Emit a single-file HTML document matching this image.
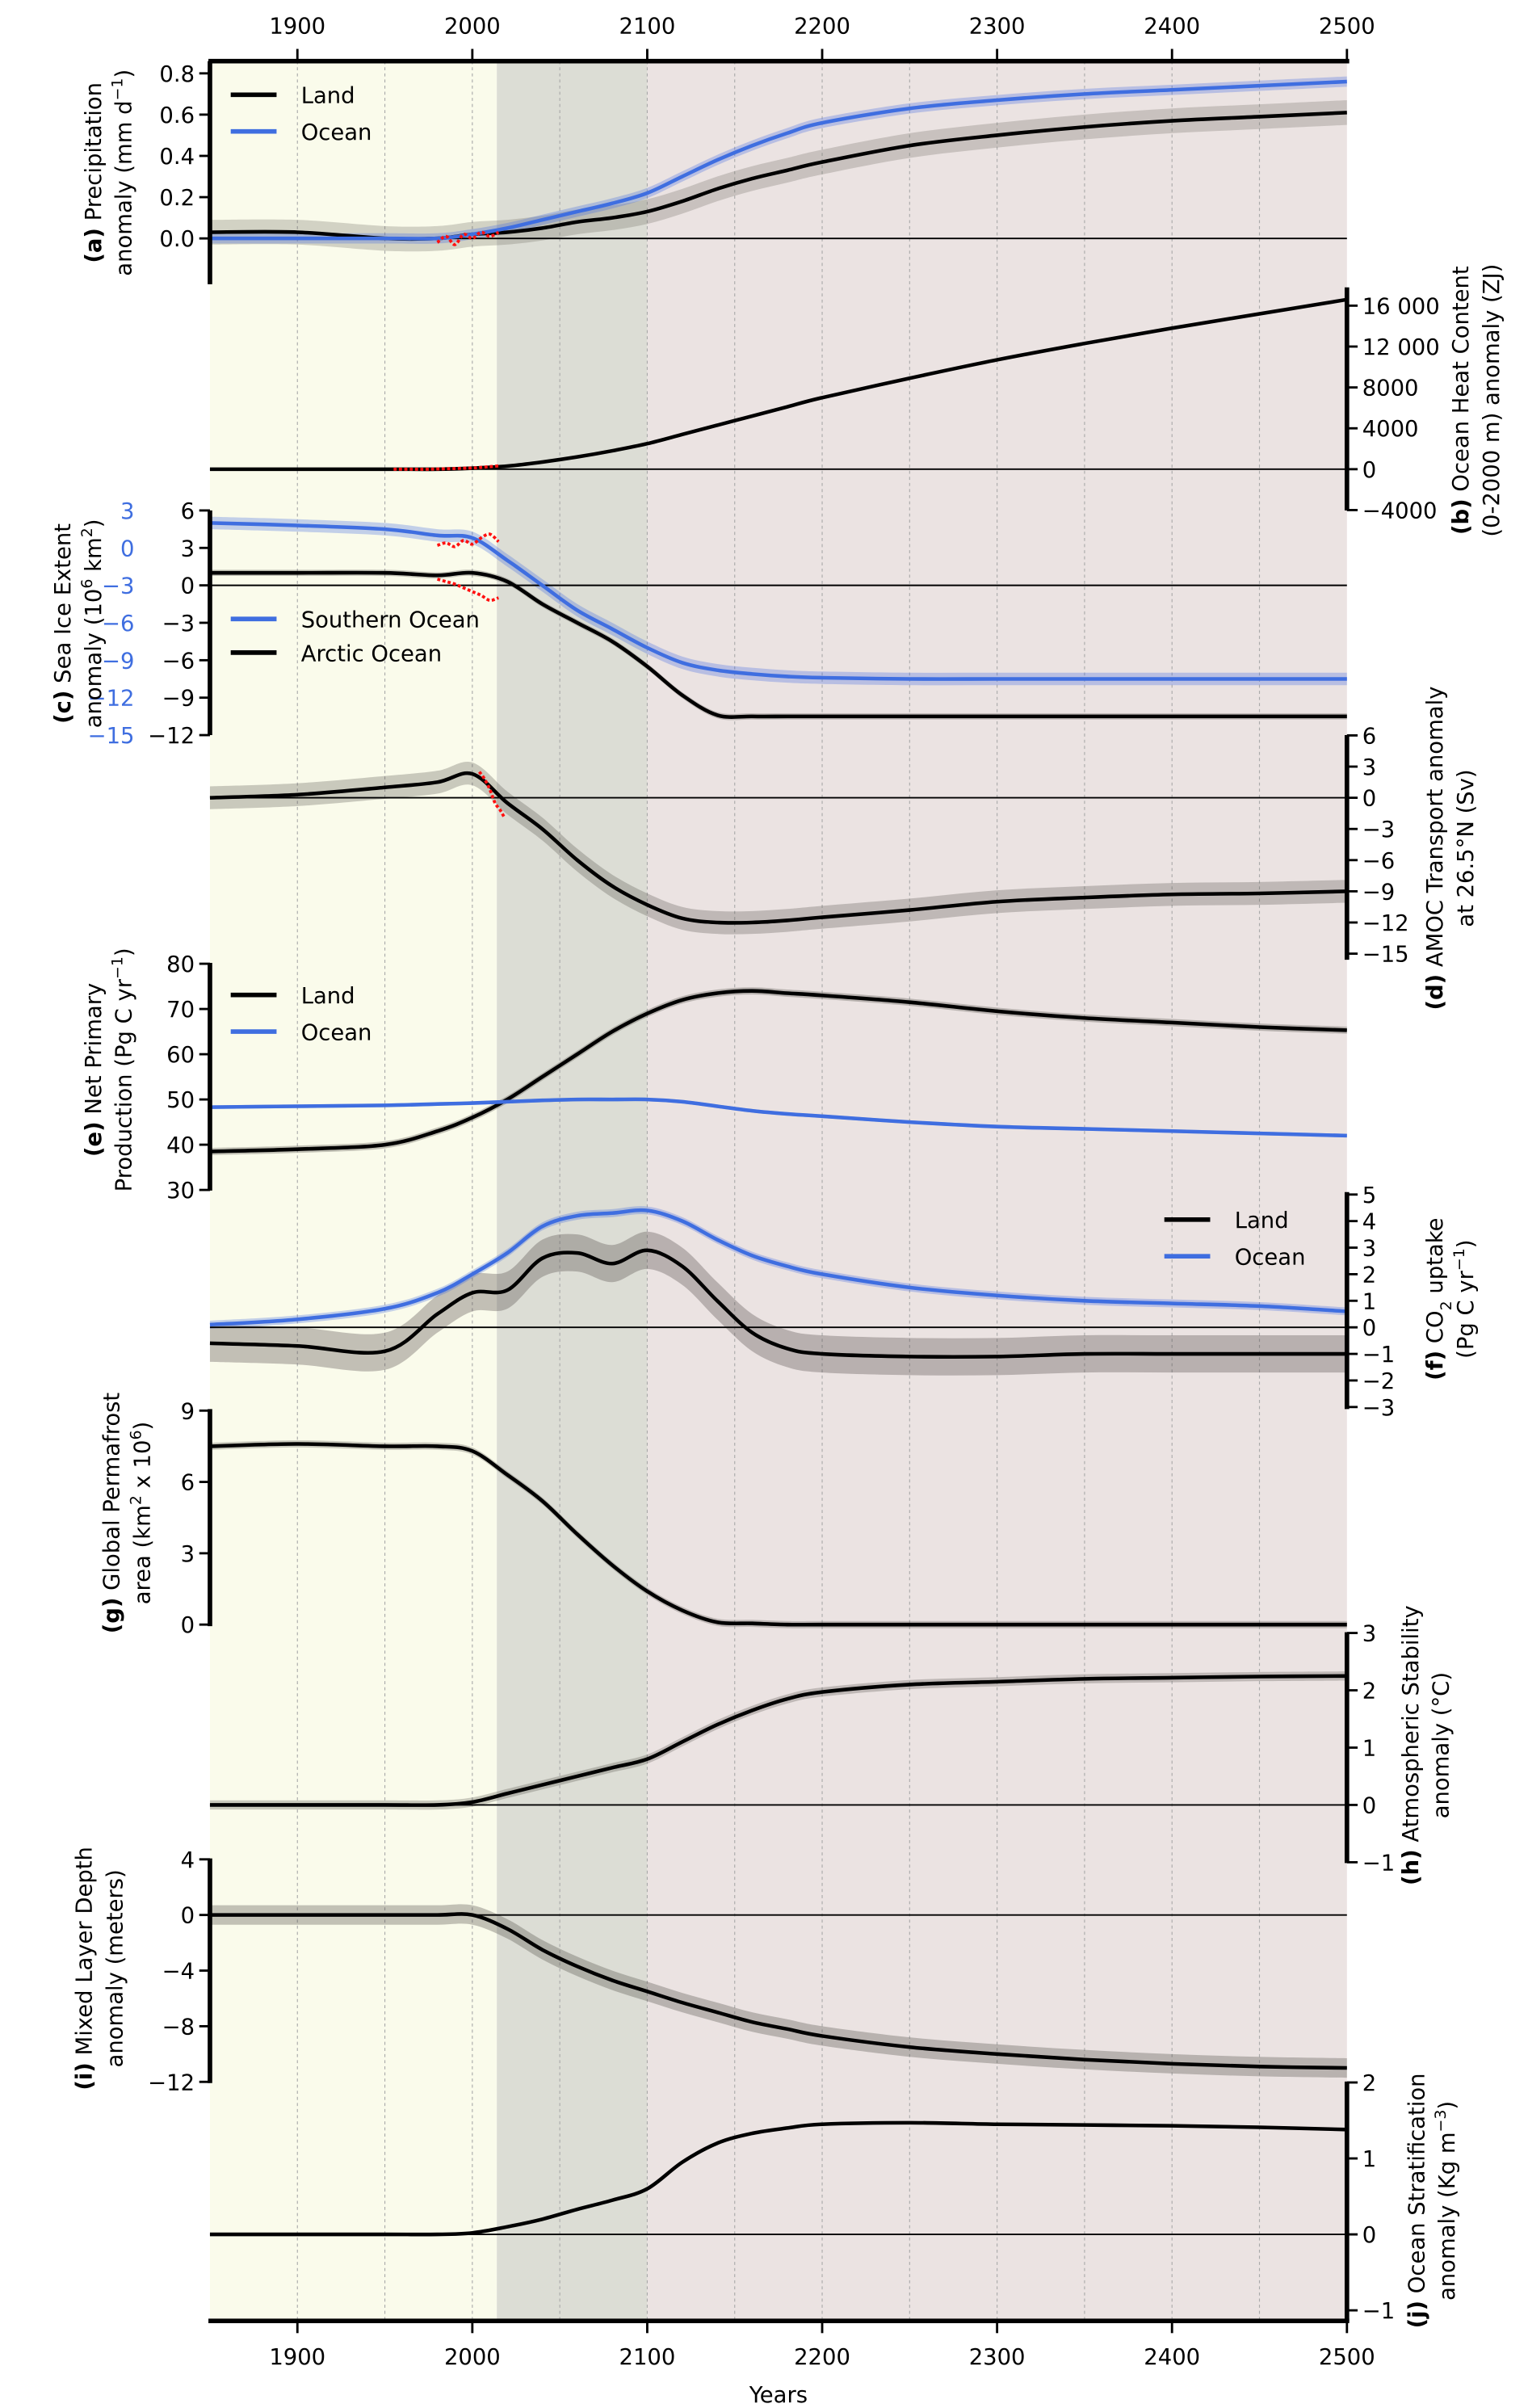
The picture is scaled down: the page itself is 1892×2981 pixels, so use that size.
<!DOCTYPE html>
<html><head><meta charset="utf-8">
<style>
html,body{margin:0;padding:0;background:#fff;}
svg{display:block;font-family:"DejaVu Sans","Liberation Sans",sans-serif;}
</style></head>
<body>
<svg id="chart" width="1892" height="2981" viewBox="0 0 1000 1575.6" preserveAspectRatio="none" xmlns="http://www.w3.org/2000/svg">
<g id="bg"></g><g id="grid"></g><g id="bands"></g><g id="zero"></g><g id="lines"></g><g id="axes"></g><g id="labels"></g>
</svg>
<script>
// ---- data ----
const years = [1850,1900,1950,1980,2000,2020,2040,2060,2080,2100,2120,2140,2160,2180,2200,2250,2300,2350,2400,2450,2500];
const precipLand = [0.03,0.03,0.0,0.0,0.02,0.03,0.05,0.08,0.1,0.13,0.18,0.24,0.29,0.33,0.37,0.45,0.5,0.54,0.57,0.59,0.61];
const precipOcean = [0,0,0,0,0.02,0.05,0.09,0.13,0.17,0.22,0.3,0.38,0.45,0.51,0.56,0.63,0.67,0.7,0.72,0.74,0.76];
const ohc = [0,0,0,0,100,300,700,1200,1800,2500,3400,4300,5200,6100,7000,8900,10700,12300,13800,15200,16600];
const iceArctic = [1,1,1,0.8,1,0.3,-1.5,-3,-4.5,-6.5,-8.8,-10.4,-10.5,-10.5,-10.5,-10.5,-10.5,-10.5,-10.5,-10.5,-10.5];
const iceSouthern = [2,1.8,1.5,1,0.8,-1,-3,-5,-6.5,-8,-9.2,-9.8,-10.1,-10.3,-10.4,-10.5,-10.5,-10.5,-10.5,-10.5,-10.5];
const amoc = [0,0.3,1,1.5,2.3,-0.5,-3,-6,-8.5,-10.3,-11.6,-12,-12,-11.8,-11.5,-10.8,-10,-9.6,-9.3,-9.2,-9];
const nppLand = [38.5,39,40,43,46,50,55,60,65,69,72,73.5,74,73.5,73,71.5,69.5,68,67,66,65.3];
const nppOcean = [48.3,48.5,48.7,49,49.2,49.5,49.8,50,50,50,49.5,48.5,47.5,46.8,46.3,45,44,43.5,43,42.5,42];
const co2Land = [-0.6,-0.7,-0.9,0.5,1.3,1.4,2.6,2.8,2.4,2.9,2.3,1,-0.2,-0.8,-1.0,-1.1,-1.1,-1.0,-1.0,-1.0,-1.0];
const co2Ocean = [0.1,0.3,0.7,1.3,2.0,2.8,3.8,4.2,4.3,4.4,4.0,3.3,2.7,2.3,2.0,1.5,1.2,1.0,0.9,0.8,0.6];
const permafrost = [7.5,7.6,7.5,7.5,7.3,6.3,5.2,3.8,2.5,1.4,0.6,0.1,0.05,0,0,0,0,0,0,0,0];
const atmStab = [0,0,0,0,0.05,0.2,0.35,0.5,0.65,0.8,1.1,1.4,1.65,1.85,1.97,2.1,2.15,2.2,2.22,2.24,2.25];
const mld = [0,0,0,0,0,-1,-2.5,-3.7,-4.7,-5.5,-6.3,-7,-7.7,-8.2,-8.7,-9.5,-10,-10.4,-10.7,-10.9,-11];
const strat = [0,0,0,0,0.02,0.1,0.2,0.33,0.45,0.6,0.95,1.2,1.33,1.4,1.45,1.47,1.45,1.44,1.43,1.41,1.38];
const obsYears = [1980,1985,1990,1995,2000,2005,2010,2015];
const obsPrecip = [-0.02,0.01,-0.03,0.02,0,0.03,0.01,0.03];
const obsOhc = [0,20,50,80,120,180,250,320];
const obsArctic = [0.5,0.3,0.1,-0.2,-0.5,-0.8,-1.2,-1.0];
const obsSouthern = [0.2,0.4,0.1,0.6,0.3,0.8,1.1,0.5];
const amocObsYears = [2004,2007,2010,2013,2016,2018];
const amocObs = [2.5,1.8,0.8,-0.5,-1.2,-1.8];
const xTicks = [1900,2000,2100,2200,2300,2400,2500];

// ---- scales ----
const X0=137.4, X1=881.5, Y_TOP=40, Y_BOT=1518.6;
const xs = y => X0 + (y-1850)*(X1-X0)/650;
const lin = (v0,p0,v1,p1) => v => p0 + (v-v0)*(p1-p0)/(v1-v0);
const sA=lin(0,156,0.8,48), sB=lin(0,307,16000,200), sC=lin(0,383,6,334), sCb=v=>sC(v+3),
      sD=lin(0,522,6,481.2), sE=lin(30,778.6,80,630.6), sF=lin(0,868.5,5,781.6),
      sG=lin(0,1063,9,923), sH=lin(0,1181,3,1068.5), sI=lin(0,1253,4,1216.6), sJ=lin(0,1462,2,1362.6);

const NS="http://www.w3.org/2000/svg";
function mk(parent,tag,attrs){const e=document.createElementNS(NS,tag);for(const k in attrs)e.setAttribute(k,attrs[k]);document.getElementById(parent).appendChild(e);return e;}
function pathOf(xv,yv,sy){
  const pts=xv.map((x,i)=>[xs(x),sy(yv[i])]);
  let d="M"+pts[0][0].toFixed(2)+","+pts[0][1].toFixed(2);
  for(let i=0;i<pts.length-1;i++){
    const p0=pts[Math.max(0,i-1)],p1=pts[i],p2=pts[i+1],p3=pts[Math.min(pts.length-1,i+2)];
    const c1=[p1[0]+(p2[0]-p0[0])/6,p1[1]+(p2[1]-p0[1])/6],c2=[p2[0]-(p3[0]-p1[0])/6,p2[1]-(p3[1]-p1[1])/6];
    d+=" C"+c1.map(v=>v.toFixed(2))+" "+c2.map(v=>v.toFixed(2))+" "+p2.map(v=>v.toFixed(2));
  }
  return d;
}
function series(name,yv,sy,color,band,bandColor){
  if(band>0){
    const up=yv.map(v=>v+band), lo=yv.map(v=>v-band);
    const d=pathOf(years,up,sy)+" L"+pathOf(years.slice().reverse(),lo.slice().reverse(),sy).slice(1)+" Z";
    const b=mk('bands','path',{d:d,fill:bandColor,stroke:'none'});
    
    
  }
  const l=mk('lines','path',{d:pathOf(years,yv,sy),fill:'none',stroke:color,'stroke-width':2.4,'stroke-linejoin':'round'});
  
  
}
function obs(name,xv,yv,sy){
  const l=mk('lines','path',{d:pathOf(xv,yv,sy),fill:'none',stroke:'#ff1010','stroke-width':2,'stroke-dasharray':'2 1.5'});
  
  
}
function txt(parent,x,y,s,attrs){const t=mk(parent,'text',Object.assign({x:x,y:y,'font-size':14.5,fill:'#000'},attrs||{}));t.textContent=s;return t;}

// ---- background ----
const bgSpans=[[1850,2014,'#fafbeb'],[2014,2100,'#dcddd5'],[2100,2500,'#ebe3e2']];
bgSpans.forEach((s,i)=>{const r=mk('bg','rect',{x:xs(s[0]),y:Y_TOP,width:xs(s[1])-xs(s[0]),height:Y_BOT-Y_TOP,fill:s[2]});
  
  });
for(let yr=1900;yr<2500;yr+=50){const g=mk('grid','line',{x1:xs(yr),x2:xs(yr),y1:Y_TOP,y2:Y_BOT,stroke:'#aaa','stroke-width':0.6,'stroke-dasharray':'2 2'});
  
  }
[sA,sB,sC,sD,sF,sH,sI,sJ].forEach(s=>{const z=mk('zero','line',{x1:X0,x2:X1,y1:s(0),y2:s(0),stroke:'#000','stroke-width':1});
  
  });

// ---- series ----
const BLUE='#3f6ee0';
series('precip-land',precipLand,sA,'#000',0.06,'rgba(120,115,105,0.3)');
series('precip-ocean',precipOcean,sA,BLUE,0.025,'rgba(65,105,225,0.3)');
series('ohc',ohc,sB,'#000',0,'');
series('ice-southern',iceSouthern,sCb,BLUE,0.5,'rgba(65,105,225,0.3)');
series('ice-arctic',iceArctic,sC,'#000',0.25,'rgba(90,85,80,0.3)');
series('amoc',amoc,sD,'#000',1.1,'rgba(90,85,80,0.3)');
series('npp-land',nppLand,sE,'#000',0.8,'rgba(90,85,80,0.35)');
series('npp-ocean',nppOcean,sE,BLUE,0.4,'rgba(65,105,225,0.3)');
series('co2-land',co2Land,sF,'#000',0.7,'rgba(90,80,80,0.35)');
series('co2-ocean',co2Ocean,sF,BLUE,0.15,'rgba(65,105,225,0.3)');
series('permafrost',permafrost,sG,'#000',0.15,'rgba(90,85,80,0.3)');
series('atm-stability',atmStab,sH,'#000',0.08,'rgba(90,85,80,0.3)');
series('mixed-layer',mld,sI,'#000',0.7,'rgba(90,85,80,0.35)');
series('stratification',strat,sJ,'#000',0.02,'rgba(90,85,80,0.3)');
obs('obs-precip',obsYears,obsPrecip,sA);
obs('obs-ohc',[1955,1965,1975].concat(obsYears.slice(4)),[0,0,0].concat(obsOhc.slice(4)),sB);
obs('obs-arctic',obsYears,obsArctic,sC);
obs('obs-southern',obsYears,obsSouthern,sCb);
obs('obs-amoc',amocObsYears,amocObs,sD);

// ---- axes ----
function axis(name,side,scale,ticks,labels,y1,y2){
  const x= side==='left'?X0:X1;
  const sp=mk('axes','line',{x1:x,x2:x,y1:y1,y2:y2,stroke:'#000','stroke-width':3});
  
  
  ticks.forEach((v,i)=>{const y=scale(v);
    mk('axes','line',{x1:side==='left'?x-7:x,x2:side==='left'?x:x+7,y1:y,y2:y,stroke:'#000','stroke-width':1.5});
    const t=txt('labels',side==='left'?x-10:x+10,y+5.3,labels[i],{'text-anchor':side==='left'?'end':'start'});
    
    
  });
}
axis('precip','left',sA,[0,0.2,0.4,0.6,0.8],['0.0','0.2','0.4','0.6','0.8'],40,186);
axis('ohc','right',sB,[-4000,0,4000,8000,12000,16000],['−4000','0','4000','8000','12 000','16 000'],188,334);
axis('sea-ice','left',sC,[6,3,0,-3,-6,-9,-12],['6','3','0','−3','−6','−9','−12'],334,481);
[3,0,-3,-6,-9,-12,-15].forEach(v=>{const t=txt('labels',88,sCb(v)+5.3,String(v).replace('-','−'),{'text-anchor':'end',fill:BLUE});
  
  });
axis('amoc','right',sD,[6,3,0,-3,-6,-9,-12,-15],['6','3','0','−3','−6','−9','−12','−15'],481,628);
axis('npp','left',sE,[30,40,50,60,70,80],['30','40','50','60','70','80'],630,779);
axis('co2','right',sF,[5,4,3,2,1,0,-1,-2,-3],['5','4','3','2','1','0','−1','−2','−3'],780,922);
axis('permafrost','left',sG,[0,3,6,9],['0','3','6','9'],922,1064);
axis('atm-stability','right',sH,[3,2,1,0,-1],['3','2','1','0','−1'],1068,1219);
axis('mixed-layer','left',sI,[4,0,-4,-8,-12],['4','0','−4','−8','−12'],1216,1363);
axis('stratification','right',sJ,[2,1,0,-1],['2','1','0','−1'],1362,1519);
[Y_TOP,Y_BOT].forEach((y,i)=>{const l=mk('axes','line',{x1:X0-1,x2:X1+1.5,y1:y,y2:y,stroke:'#000','stroke-width':3});
  
  });
xTicks.forEach(yr=>{const x=xs(yr);
  mk('axes','line',{x1:x,x2:x,y1:Y_TOP-8,y2:Y_TOP,stroke:'#000','stroke-width':1.5});
  mk('axes','line',{x1:x,x2:x,y1:Y_BOT,y2:Y_BOT+8,stroke:'#000','stroke-width':1.5});
  const t1=txt('labels',x,22,String(yr),{'text-anchor':'middle'});
  
  
  const t2=txt('labels',x,1547,String(yr),{'text-anchor':'middle'});
  
  
});
const xt=txt('labels',(X0+X1)/2,1572,'Years',{'text-anchor':'middle'});



// ---- y titles ----
function ytitle(name,x,yc,letter,l1,l2){
  const g=mk('labels','g',{transform:`translate(${x},${yc}) rotate(-90)`});
  
  
  const t=document.createElementNS(NS,'text');
  t.setAttribute('x',0);t.setAttribute('y',0);t.setAttribute('font-size',14.5);t.setAttribute('text-anchor','middle');
  t.innerHTML=`<tspan font-weight="bold">${letter}</tspan> ${l1}`;
  g.appendChild(t);
  const t2=document.createElementNS(NS,'text');
  t2.setAttribute('x',0);t2.setAttribute('y',20);t2.setAttribute('font-size',14.5);t2.setAttribute('text-anchor','middle');
  t2.innerHTML=l2;
  g.appendChild(t2);
}
ytitle('precip',66,113,'(a)','Precipitation','anomaly (mm d<tspan baseline-shift="super" font-size="10">−1</tspan>)');
ytitle('ohc',961,262,'(b)','Ocean Heat Content','(0-2000 m) anomaly (ZJ)');
ytitle('sea-ice',46,408,'(c)','Sea Ice Extent','anomaly (10<tspan baseline-shift="super" font-size="10">6</tspan> km<tspan baseline-shift="super" font-size="10">2</tspan>)');
ytitle('amoc',944,555,'(d)','AMOC Transport anomaly','at 26.5°N (Sv)');
ytitle('npp',66,700,'(e)','Net Primary','Production (Pg C yr<tspan baseline-shift="super" font-size="10">−1</tspan>)');
ytitle('co2',944,850,'(f)','CO<tspan baseline-shift="sub" font-size="10">2</tspan> uptake','(Pg C yr<tspan baseline-shift="super" font-size="10">−1</tspan>)');
ytitle('permafrost',78,990,'(g)','Global Permafrost','area (km<tspan baseline-shift="super" font-size="10">2</tspan> x 10<tspan baseline-shift="super" font-size="10">6</tspan>)');
ytitle('atm-stability',928,1142,'(h)','Atmospheric Stability','anomaly (°C)');
ytitle('mixed-layer',60,1288,'(i)','Mixed Layer Depth','anomaly (meters)');
ytitle('stratification',932,1440,'(j)','Ocean Stratification','anomaly (Kg m<tspan baseline-shift="super" font-size="10">−3</tspan>)');

// ---- legends ----
function legend(name,x,y,color,label){
  const l=mk('labels','line',{x1:x,x2:x+30,y1:y,y2:y,stroke:color,'stroke-width':3});
  
  
  const t=txt('labels',x+46,y+5.5,label);
  
  
}
legend('legend-a-land',151,62,'#000','Land');
legend('legend-a-ocean',151,86,BLUE,'Ocean');
legend('legend-c-southern',151,405,BLUE,'Southern Ocean');
legend('legend-c-arctic',151,427,'#000','Arctic Ocean');
legend('legend-e-land',151,651,'#000','Land');
legend('legend-e-ocean',151,675,BLUE,'Ocean');
legend('legend-f-land',762,798,'#000','Land');
legend('legend-f-ocean',762,822,BLUE,'Ocean');
</script>
</body></html>
